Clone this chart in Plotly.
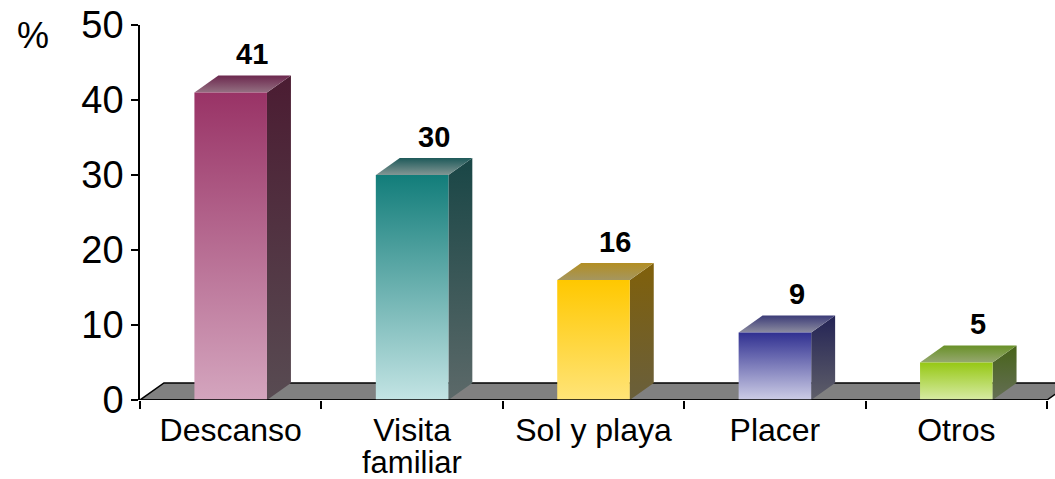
import plotly.graph_objects as go

# ---- data ----
labels_line1 = ["Descanso", "Visita", "Sol y playa", "Placer", "Otros"]
labels_line2 = ["", "familiar", "", "", ""]
values = [41, 30, 16, 9, 5]
value_labels = ["41", "30", "16", "9", "5"]
y_ticks = [0, 10, 20, 30, 40, 50]

# ---- colours per bar ----
front_top = ["rgb(153,51,102)", "rgb(18,125,122)", "rgb(255,200,0)", "rgb(48,48,145)", "rgb(150,200,20)"]
front_bot = ["rgb(212,165,190)", "rgb(195,228,228)", "rgb(255,228,120)", "rgb(205,205,230)", "rgb(215,235,165)"]
side_top = ["rgb(75,28,50)", "rgb(25,70,70)", "rgb(128,96,10)", "rgb(35,35,85)", "rgb(72,100,25)"]
side_bot = ["rgb(88,75,82)", "rgb(92,105,105)", "rgb(105,95,60)", "rgb(95,95,105)", "rgb(100,110,85)"]
lid_back = ["rgb(108,40,78)", "rgb(30,90,90)", "rgb(178,142,35)", "rgb(60,60,120)", "rgb(105,145,40)"]
lid_front = ["rgb(148,112,130)", "rgb(130,150,148)", "rgb(165,150,95)", "rgb(140,140,160)", "rgb(150,168,112)"]

BAR_HALF = 0.2
DX, DY = 0.132, 2.27
X_EXTRA = 0.044  # room right of the last category for the floor's end
FONT = "Liberation Sans, Arial, sans-serif"

fig = go.Figure()
n = len(labels_line1)

# floor
fig.add_trace(go.Scatter(
    x=[-0.5, n - 0.5, n - 0.5 + DX, -0.5 + DX, -0.5],
    y=[0, 0, DY, DY, 0],
    fill="toself", fillcolor="#808080", mode="lines",
    line=dict(color="black", width=1.5), hoverinfo="skip", showlegend=False))

for i, v in enumerate(values):
    x0, x1 = i - BAR_HALF, i + BAR_HALF
    # side face
    fig.add_trace(go.Scatter(
        x=[x1, x1 + DX, x1 + DX, x1, x1], y=[0, DY, v + DY, v, 0],
        fill="toself", mode="none",
        fillgradient=dict(type="vertical", colorscale=[[0, side_bot[i]], [1, side_top[i]]]),
        hoverinfo="skip", showlegend=False))
    # top face
    fig.add_trace(go.Scatter(
        x=[x0, x1, x1 + DX, x0 + DX, x0], y=[v, v, v + DY, v + DY, v],
        fill="toself", mode="none",
        fillgradient=dict(type="vertical", colorscale=[[0, lid_front[i]], [1, lid_back[i]]]),
        hoverinfo="skip", showlegend=False))
    # front face
    fig.add_trace(go.Scatter(
        x=[x0, x1, x1, x0, x0], y=[0, 0, v, v, 0],
        fill="toself", mode="none",
        fillgradient=dict(type="vertical", colorscale=[[0, front_bot[i]], [1, front_top[i]]]),
        hoverinfo="skip", showlegend=False))
    # value label
    fig.add_annotation(x=i + 0.12, y=v + DY, text="<b>%s</b>" % value_labels[i],
                       showarrow=False, yanchor="bottom", yshift=3,
                       font=dict(family=FONT, size=29, color="black"))
    # second line of category label
    if labels_line2[i]:
        fig.add_annotation(x=i, y=0, text=labels_line2[i], showarrow=False,
                           yanchor="middle", yshift=-62,
                           font=dict(family=FONT, size=31, color="black"))

# front edge of the floor (x axis line), drawn over the bars
fig.add_trace(go.Scatter(
    x=[-0.5, n - 0.5], y=[0, 0], mode="lines", cliponaxis=False,
    line=dict(color="black", width=1.5), hoverinfo="skip", showlegend=False))

fig.add_annotation(xref="paper", yref="paper", x=0, y=1, xshift=-107, yshift=-10,
                   text="%", showarrow=False, xanchor="center", yanchor="middle",
                   font=dict(family=FONT, size=36, color="black"))

fig.update_layout(
    width=1055, height=479,
    margin=dict(l=140, r=0, t=25, b=79, autoexpand=False),
    paper_bgcolor="white", plot_bgcolor="white",
    showlegend=False,
    xaxis=dict(
        range=[-0.5, n - 0.5 + X_EXTRA], tickvals=list(range(n)), ticktext=labels_line1,
        ticks="", showgrid=False, zeroline=False, automargin=False,
        showline=False,
        tickfont=dict(family=FONT, size=32, color="black"),
        ticklabelstandoff=8,
        minor=dict(tickvals=[k - 0.5 for k in range(n + 1)], ticks="outside",
                   ticklen=8, tickcolor="black", tickwidth=1.5, showgrid=False),
    ),
    yaxis=dict(
        range=[0, 50], tickvals=y_ticks, ticks="outside", ticklen=7,
        tickcolor="black", tickwidth=1.5, showgrid=False, zeroline=False,
        showline=True, linecolor="black", linewidth=1.5, automargin=False,
        tickfont=dict(family=FONT, size=38, color="black"),
        ticklabelstandoff=0, ticklabeloverflow="allow",
    ),
)

fig.write_html("out.html", config={"displayModeBar": False},
               post_script="document.body.style.margin='0';")
